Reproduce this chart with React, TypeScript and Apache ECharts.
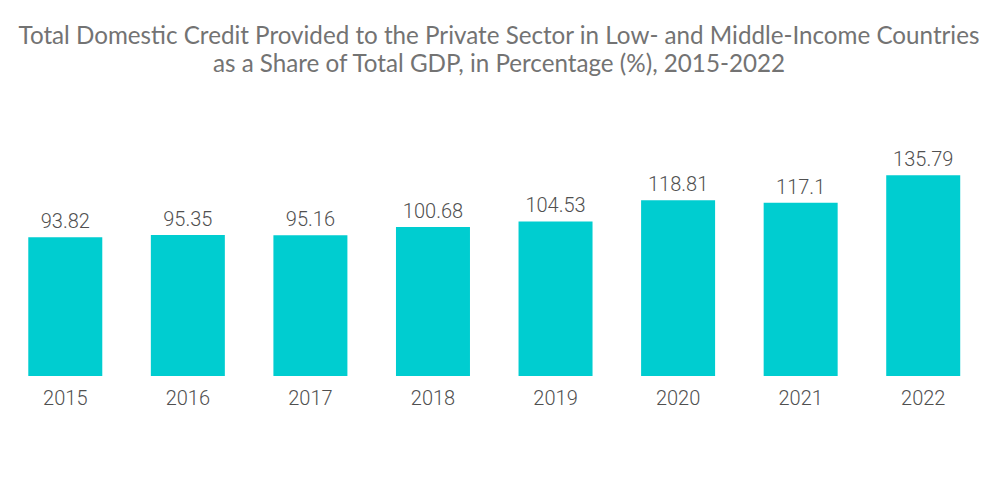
import React, { useEffect, useRef } from "react";
import * as echarts from "echarts";

const titleLines = [
  "Total Domestic Credit Provided to the Private Sector in Low- and Middle-Income Countries",
  "as a Share of Total GDP, in Percentage (%), 2015-2022",
];
const categories = ["2015", "2016", "2017", "2018", "2019", "2020", "2021", "2022"];
const values = [93.82, 95.35, 95.16, 100.68, 104.53, 118.81, 117.1, 135.79];

export default function App() {
  const ref = useRef<HTMLDivElement>(null);
  useEffect(() => {
    if (!ref.current) return;
    const chart = echarts.init(ref.current, null, { renderer: "svg" });
    chart.setOption({
      animation: false,
      title: {
        text: titleLines.join("\n"),
        left: 494,
        textAlign: "center",
        top: 15,
        textStyle: {
          fontFamily: "Lato",
          fontWeight: "normal",
          fontSize: 24.2,
          lineHeight: 28,
          color: "#737373",
        },
      },
      grid: { left: 4, right: 15.5, top: 139.4, bottom: 128, containLabel: false },
      xAxis: {
        type: "category",
        data: categories,
        axisLine: { show: false },
        axisTick: { show: false },
        axisLabel: {
          margin: 12,
          fontFamily: "Roboto",
          fontWeight: 300,
          fontSize: 20,
          color: "#505050",
        },
      },
      yAxis: {
        type: "value",
        min: 0,
        max: 160,
        show: false,
        splitLine: { show: false },
      },
      series: [
        {
          type: "bar",
          data: values,
          barWidth: 74,
          itemStyle: { color: "#00CDD0" },
          label: {
            show: true,
            position: "top",
            distance: 6,
            fontFamily: "Roboto",
            fontWeight: 300,
            fontSize: 20,
            color: "#505050",
          },
        },
      ],
    });
    return () => chart.dispose();
  }, []);
  return (
    <div
      ref={ref}
      style={{ position: "absolute", left: 0, top: 0, width: 1000, height: 504 }}
    />
  );
}
